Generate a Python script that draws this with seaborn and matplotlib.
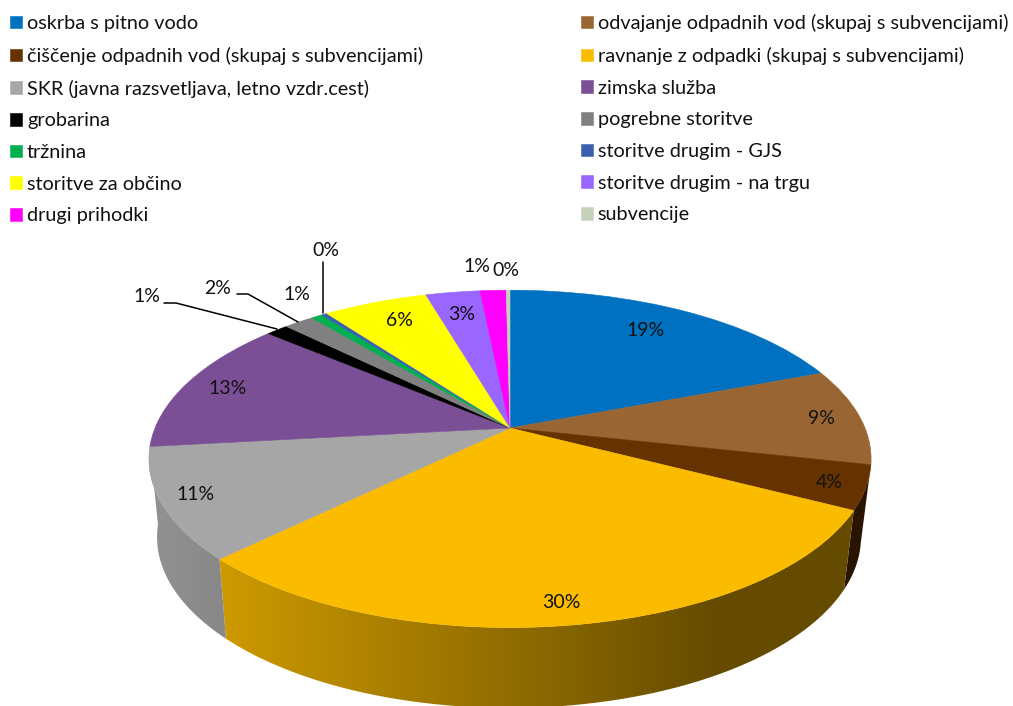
import numpy as np
import seaborn as sns
import matplotlib.pyplot as plt
from matplotlib.patches import Polygon
from matplotlib.transforms import Transform

categories = ['oskrba s pitno vodo', 'odvajanje odpadnih vod (skupaj s subvencijami)',
              'čiščenje odpadnih vod (skupaj s subvencijami)', 'ravnanje z odpadki (skupaj s subvencijami)',
              'SKR (javna razsvetljava, letno vzdr.cest)', 'zimska služba',
              'grobarina', 'pogrebne storitve',
              'tržnina', 'storitve drugim - GJS',
              'storitve za občino', 'storitve drugim - na trgu',
              'drugi prihodki', 'subvencije']
shares = [19.2, 9.3, 4.2, 30.0, 10.6, 13.0, 1.2, 1.6, 0.6, 0.3, 5.6, 2.9, 1.4, 0.2]
colors = ['#0070C0', '#996633', '#663300', '#FBBC00', '#A6A6A6', '#7B4F96', '#000000',
          '#808080', '#00B050', '#3A5FB0', '#FFFF00', '#9966FF', '#FF00FF', '#C6D1BC']

# where each percent label sits, in picture pixels
label_pos = [(646, 330), (821, 419), (829, 483), (561, 602), (196, 494), (228, 389), (147, 296),
             (218, 288), (297, 295), (326, 251), (399, 320), (462, 315), (477, 266), (506, 270)]
leaders = [[(164, 303), (176, 303), (277, 329)],
           [(237, 294), (248, 294), (298, 322)],
           [(323, 262), (323, 313)]]


class Tilt(Transform):
    # unit circle -> pixels, with the far edge squeezed like Excel's perspective pie
    input_dims = 2
    output_dims = 2

    def __init__(self, cx, cy, rx, ry, k):
        super().__init__()
        self.p = (cx, cy, rx, ry, k)

    def transform_non_affine(self, xy):
        xy = np.asarray(xy, dtype=float)
        cx, cy, rx, ry, k = self.p
        w = 1 + k * xy[:, 1]
        return np.column_stack([cx + rx * xy[:, 0] / w, cy - ry * xy[:, 1] / w])


top = Tilt(510, 428, 355, 163, 0.183)
low = Tilt(509, 506, 346, 165, 0.183)


def shade(x):
    return np.interp(x, [150, 225, 720], [0.88, 0.815, 0.4])


sns.set_theme(style='white')
plt.rcParams['font.family'] = ['Lato', 'DejaVu Sans']

fig = plt.figure(figsize=(10.13, 7.06), dpi=100)
ax = fig.add_axes([0, 0, 1, 1])

wedges, _, pct = ax.pie(shares, colors=sns.color_palette(colors), startangle=90, counterclock=False,
                        autopct='%.0f%%', textprops={'fontsize': 14, 'color': '#111111', 'zorder': 5})
for w, c in zip(wedges, colors):
    w.set_transform(top + ax.transData)
    w.set_edgecolor(c)
    w.set_linewidth(0.4)
    w.set_zorder(3)
    # only slices facing the viewer get a side wall, shaded by x
    if np.sin(np.radians((w.theta1 + w.theta2) / 2)) > 0:
        continue
    t = np.radians(np.linspace(w.theta1, w.theta2, 80))
    arc = np.column_stack([np.cos(t), np.sin(t)])
    verts = np.vstack([top.transform(arc), low.transform(arc)[::-1]])
    xs = np.linspace(verts[:, 0].min(), verts[:, 0].max(), 256)
    rgb = np.array(sns.color_palette([c])[0])
    img = (rgb[None, :] * shade(xs)[:, None])[None, :, :]
    im = ax.imshow(img, extent=(xs[0], xs[-1], verts[:, 1].max(), verts[:, 1].min()),
                   aspect='auto', zorder=2, interpolation='bilinear')
    im.set_clip_path(Polygon(verts, transform=ax.transData))

for txt, pos in zip(pct, label_pos):
    txt.set_position(pos)
    txt.set_ha('center')
    txt.set_va('center')

for line in leaders:
    xy = np.array(line)
    ax.plot(xy[:, 0], xy[:, 1], color='black', lw=1.1, zorder=4)

# legend reads across, matplotlib fills down
order = list(range(0, 14, 2)) + list(range(1, 14, 2))
leg = ax.legend([wedges[i] for i in order], [categories[i] for i in order], ncols=2,
                loc='upper left', bbox_to_anchor=(10, 14), bbox_transform=ax.transData,
                frameon=False, fontsize=14.3, borderpad=0, borderaxespad=0, labelspacing=0.74,
                handlelength=0.6, handleheight=0.6, handletextpad=0.25, columnspacing=7.95,
                labelcolor='#111111')

ax.set_aspect('auto')
ax.set_xlim(0, 1013)
ax.set_ylim(706, 0)
ax.axis('off')
fig.savefig('out.png', dpi=100)
